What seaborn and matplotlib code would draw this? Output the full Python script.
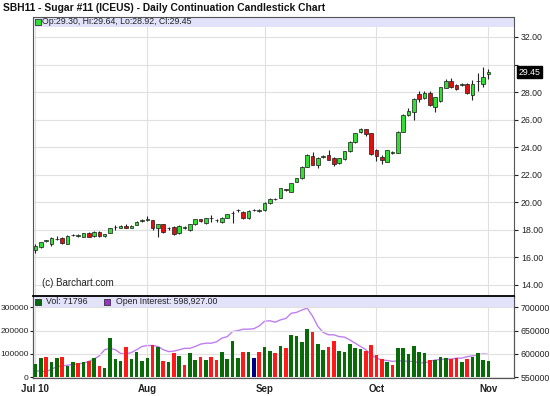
import numpy as np
import pandas as pd
import seaborn as sns
import matplotlib.pyplot as plt
from matplotlib.patches import Rectangle
import matplotlib.transforms as mtransforms

# daily bars, Jul 1 2010 .. Nov 1 2010 (trading days, index based x axis)
opens = [16.55, 16.75, 17.20, 16.95, 17.35, 17.40, 17.00, 17.60, 17.58, 17.48,
         17.80, 17.52, 17.85, 17.55, 17.80, 18.18, 18.13, 18.31, 18.12, 18.38,
         18.65, 18.75, 18.72, 18.11, 18.40, 18.10, 18.23, 17.75, 18.15, 17.99,
         18.40, 18.77, 18.48, 18.84, 18.72, 18.55, 18.89, 19.23, 19.44, 19.32,
         18.84, 19.44, 19.40, 19.42, 19.95, 20.22, 20.34, 20.95, 20.77, 21.50,
         21.74, 22.59, 23.37, 22.72, 23.32, 23.44, 23.25, 22.84, 23.15, 23.69,
         24.36, 25.09, 25.31, 25.02, 23.81, 23.32, 22.95, 23.58, 23.60, 25.13,
         26.34, 26.58, 27.84, 27.55, 27.96, 26.90, 27.38, 28.32, 28.81, 28.49,
         28.55, 28.57, 27.79, 28.80, 28.57, 29.30]
highs = [16.95, 17.15, 17.30, 17.45, 17.55, 17.45, 17.65, 17.70, 17.70, 17.80,
         17.85, 17.90, 17.90, 17.72, 18.15, 18.35, 18.32, 18.40, 18.35, 18.65,
         18.78, 19.00, 18.75, 18.45, 18.45, 18.20, 18.28, 18.35, 18.25, 18.42,
         18.80, 18.82, 18.88, 19.05, 18.80, 18.92, 19.18, 19.35, 19.55, 19.36,
         19.45, 19.55, 19.50, 20.05, 20.30, 20.30, 21.05, 21.00, 21.42, 21.78,
         22.62, 23.50, 23.65, 23.30, 23.40, 23.80, 23.30, 23.25, 23.72, 24.45,
         25.05, 25.38, 25.35, 25.05, 23.90, 23.40, 23.82, 23.75, 25.20, 26.40,
         26.85, 27.55, 28.05, 28.10, 28.10, 27.65, 28.40, 28.95, 29.00, 28.60,
         28.65, 28.65, 28.90, 29.35, 29.80, 29.64]
lows = [16.35, 16.65, 17.10, 16.85, 17.25, 17.00, 16.95, 17.55, 17.45, 17.45,
        17.45, 17.48, 17.50, 17.50, 17.78, 18.00, 18.10, 18.12, 18.10, 18.35,
        18.55, 18.65, 18.00, 17.51, 17.80, 18.00, 17.62, 17.70, 18.05, 17.95,
        18.38, 18.60, 18.45, 18.55, 18.60, 18.50, 18.85, 18.50, 19.30, 18.80,
        18.80, 19.38, 19.30, 19.40, 19.90, 20.15, 20.30, 20.85, 20.72, 21.45,
        21.70, 22.55, 22.70, 22.50, 23.20, 23.05, 22.65, 22.80, 23.10, 23.65,
        24.30, 25.05, 24.80, 23.45, 23.00, 22.75, 22.90, 23.50, 23.55, 25.10,
        26.30, 26.00, 27.30, 27.50, 27.00, 26.55, 27.30, 28.28, 28.30, 28.15,
        28.45, 27.85, 27.45, 28.10, 28.40, 28.92]
closes = [16.85, 17.10, 17.22, 17.40, 17.33, 17.03, 17.58, 17.65, 17.60, 17.75,
          17.48, 17.87, 17.52, 17.68, 18.12, 18.20, 18.29, 18.15, 18.31, 18.60,
          18.68, 18.78, 18.11, 18.40, 17.83, 18.12, 17.68, 18.31, 18.17, 18.40,
          18.77, 18.65, 18.84, 18.85, 18.73, 18.89, 19.13, 19.26, 19.46, 18.84,
          19.40, 19.46, 19.42, 19.98, 20.24, 20.25, 21.02, 20.90, 21.38, 21.74,
          22.59, 23.44, 22.72, 23.25, 23.33, 23.08, 22.79, 23.20, 23.69, 24.41,
          25.02, 25.33, 24.94, 23.49, 23.39, 23.05, 23.80, 23.62, 25.13, 26.34,
          26.65, 27.50, 27.48, 27.96, 27.07, 27.62, 28.35, 28.83, 28.35, 28.20,
          28.58, 27.91, 28.59, 28.82, 29.12, 29.45]

volume = [55000, 84000, 89000, 67000, 84000, 89000, 49000, 67000, 60000, 67000,
          71000, 81000, 50000, 41000, 167000, 77000, 71000, 131000, 79000, 110000,
          71000, 81000, 139000, 129000, 71000, 67000, 106000, 91000, 53000, 106000,
          74000, 89000, 74000, 89000, 74000, 110000, 79000, 157000, 81000, 110000,
          110000, 81000, 110000, 131000, 114000, 106000, 136000, 127000, 181000, 177000,
          150000, 207000, 196000, 143000, 116000, 131000, 157000, 113000, 110000, 143000,
          127000, 121000, 113000, 139000, 94000, 79000, 67000, 53000, 127000, 124000,
          100000, 136000, 110000, 106000, 74000, 74000, 89000, 81000, 79000, 81000,
          67000, 77000, 89000, 103000, 74000, 71796]
# g = up day, r = down day, b = unchanged
vol_dir = ["g", "g", "r", "g", "g", "r", "g", "g", "r", "g",
           "r", "g", "r", "g", "g", "g", "g", "r", "g", "g",
           "g", "g", "r", "g", "r", "g", "r", "g", "r", "g",
           "g", "r", "g", "r", "r", "g", "g", "g", "g", "r",
           "g", "b", "r", "g", "g", "r", "g", "r", "g", "g",
           "g", "g", "r", "g", "g", "r", "r", "g", "g", "g",
           "g", "g", "r", "r", "r", "r", "g", "r", "g", "g",
           "g", "g", "g", "g", "r", "g", "g", "g", "r", "r",
           "g", "r", "g", "g", "g", "g"]

open_interest = [564000, 563000, 562000, 567000, 573000, 574000, 576000, 577000, 579000, 580000,
                 584000, 589000, 596000, 609000, 612000, 609000, 601000, 600000, 603000, 609000,
                 616000, 618000, 618000, 616000, 609000, 605000, 606000, 609000, 612000, 612000,
                 616000, 621000, 623000, 623000, 626000, 634000, 637000, 648000, 650000, 653000,
                 653000, 654000, 660000, 670000, 671000, 668000, 673000, 676000, 687000, 689000,
                 694000, 698000, 681000, 659000, 646000, 641000, 641000, 637000, 636000, 630000,
                 623000, 616000, 609000, 598000, 591000, 587000, 586000, 584000, 585000, 585000,
                 584000, 584000, 581000, 581000, 584000, 587000, 588000, 589000, 589000, 591000,
                 591000, 594000, 596000, 598000, 600000, 598927]

month_pos = [0, 21, 43, 64, 85]
month_labels = ["Jul 10", "Aug", "Sep", "Oct", "Nov"]
price_ticks = [14, 16, 18, 20, 22, 24, 26, 28, 30, 32]

df = pd.DataFrame({"open": opens, "high": highs, "low": lows, "close": closes,
                   "volume": volume, "oi": open_interest})
df["idx"] = np.arange(len(df))

sns.set_style("white")
plt.rcParams["font.family"] = ["Liberation Sans", "DejaVu Sans"]

W, H = 550, 396
fig = plt.figure(figsize=(5.5, 3.96), dpi=100)
L, R = 33, 514
ax = fig.add_axes([L / W, 1 - 296 / H, (R - L) / W, (296 - 17) / H])
axv = fig.add_axes([L / W, 1 - 378 / H, (R - L) / W, (378 - 296) / H])
axo = axv.twinx()

xmin, xmax = -0.45, 89.8
grid_c = "#e0e0e0"

# ---- price panel
ax.set_xlim(xmin, xmax)
ax.set_ylim(13.2, 33.45)
for p in price_ticks:
    ax.axhline(p, color=grid_c, lw=0.8, zorder=0)
for m in month_pos:
    ax.axvline(m, color=grid_c, lw=0.8, zorder=0)

up = df["close"] >= df["open"]
ax.vlines(df["idx"], df["low"], df["high"], color="#222222", lw=0.8, zorder=2)
body_lo = df[["open", "close"]].min(axis=1)
body_h = (df["close"] - df["open"]).abs().clip(lower=0.03)
ax.bar(df["idx"], body_h, bottom=body_lo, width=0.68,
       color=np.where(up, "#33dd33", "#dd1111"), edgecolor="#1a1a1a", lw=0.5, zorder=3)

ax.add_patch(Rectangle((0, 1 - 10 / 279), 1, 10 / 279, transform=ax.transAxes,
                       color="#e2e2fb", zorder=1, lw=0))
ax.scatter([4.5 / 481], [1 - 5 / 279], s=14, marker="s", color="#33dd33",
           edgecolor="#1a1a1a", linewidth=0.5, transform=ax.transAxes, zorder=5)
ax.text(9 / 481, 1 - 5 / 279, "Op:29.30, Hi:29.64, Lo:28.92, Cl:29.45",
        transform=ax.transAxes, fontsize=6.3, va="center", color="#222222", zorder=5)
ax.text(9.5 / 481, 13 / 279, "(c) Barchart.com", transform=ax.transAxes,
        fontsize=7, va="center", color="#222222")

ax.yaxis.tick_right()
ax.set_yticks(price_ticks)
ax.set_yticklabels(["" if p == 30 else f"{p:.2f}" for p in price_ticks])
ax.tick_params(axis="y", direction="out", length=3, width=0.8, labelsize=6.3,
               pad=2, colors="#222222")
ax.set_xticks([])
trans = mtransforms.blended_transform_factory(ax.transAxes, ax.transData)
ax.text(1.009, closes[-1], f"{closes[-1]:.2f}", transform=trans, fontsize=6.3,
        va="center", ha="left", color="white",
        bbox=dict(boxstyle="square,pad=0.15", fc="black", ec="black"))

# ---- volume / open interest panel
vol_max = 348000
axv.set_xlim(xmin, xmax)
axv.set_ylim(-3000, vol_max)
axo.set_ylim(550000 - 1500, 550000 + vol_max / 2)
axo.set_zorder(axv.get_zorder() - 1)
axv.patch.set_visible(False)
axo.patch.set_visible(True)
axo.patch.set_facecolor("white")

for v in [0, 100000, 200000, 300000]:
    axv.axhline(v, color=grid_c, lw=0.8, zorder=0)
for m in month_pos:
    axv.axvline(m, color=grid_c, lw=0.8, zorder=0)

vcol = {"g": "#076b07", "r": "#ff1a1a", "b": "#000080"}
axv.bar(df["idx"], df["volume"], width=0.68, color=[vcol[c] for c in vol_dir],
        lw=0, zorder=3)
sns.lineplot(data=df, x="idx", y="oi", ax=axo, color="#bf7ff0", lw=1.0)
axo.set_xlim(xmin, xmax)

axv.add_patch(Rectangle((0, 1 - 11 / 82), 1, 11 / 82, transform=axv.transAxes,
                        color="#e2e2fb", zorder=1, lw=0))
ly = 1 - 5.5 / 82
axv.scatter([4.5 / 481], [ly], s=14, marker="s", color="#076b07", edgecolor="#1a1a1a",
            linewidth=0.5, transform=axv.transAxes, zorder=5)
axv.text(13 / 481, ly, f"Vol: {volume[-1]}", transform=axv.transAxes, fontsize=6.3,
         va="center", color="#222222", zorder=5)
axv.scatter([74 / 481], [ly], s=14, marker="s", color="#9933cc", edgecolor="#1a1a1a",
            linewidth=0.5, transform=axv.transAxes, zorder=5)
axv.text(83.5 / 481, ly, f"Open Interest: {open_interest[-1]:,.2f}",
         transform=axv.transAxes, fontsize=6.3, va="center", color="#222222", zorder=5)

axv.set_yticks([0, 100000, 200000, 300000])
axv.set_yticklabels(["0", "100000", "200000", "300000"])
axo.set_yticks([550000, 600000, 650000, 700000])
axo.set_yticklabels(["550000", "600000", "650000", "700000"])
axv.tick_params(axis="y", direction="out", length=2, width=0.8, labelsize=6,
                pad=1, colors="#222222")
axo.tick_params(axis="y", direction="out", length=3, width=0.8, labelsize=6.3,
                pad=2, colors="#222222")
axo.set_ylabel("")
axo.set_xlabel("")
axv.set_xticks(month_pos)
axv.set_xticklabels(month_labels, fontweight="bold", fontsize=7)
axv.tick_params(axis="x", direction="out", length=3, width=0.8, pad=1.5, colors="#222222")

for a in (ax, axv, axo):
    for s in a.spines.values():
        s.set_color("#555555")
        s.set_linewidth(0.8)
axv.spines["top"].set_color("black")
axv.spines["top"].set_linewidth(1.3)

fig.text(3 / W, 1 - 8 / H, "SBH11 - Sugar #11 (ICEUS) - Daily Continuation Candlestick Chart",
         fontsize=7.4, fontweight="bold", va="center", ha="left", color="#111111")

fig.savefig("out.png", dpi=100)
